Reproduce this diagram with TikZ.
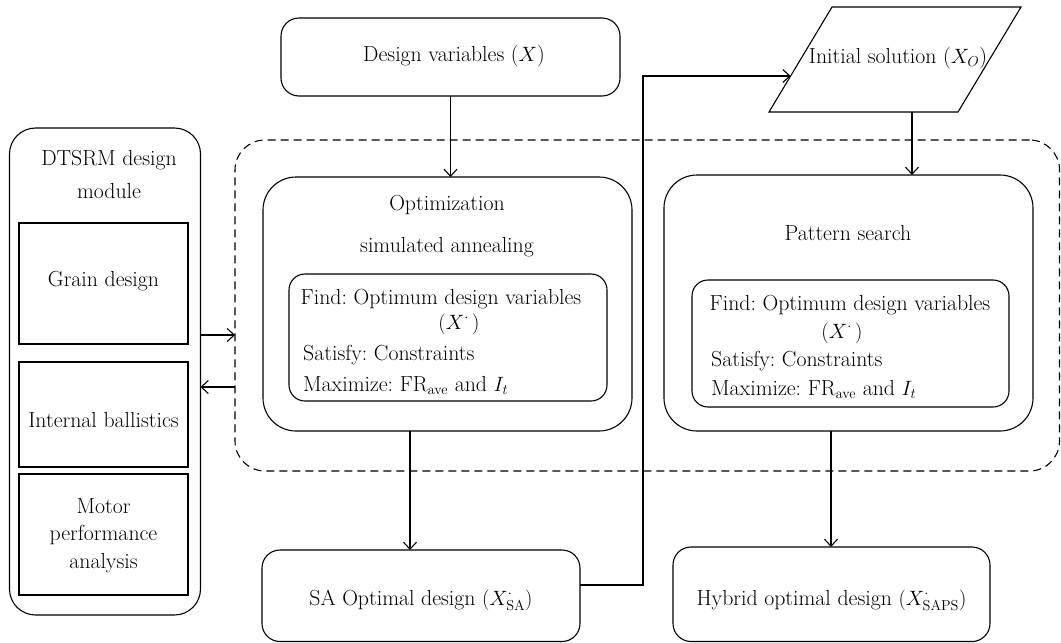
\documentclass[tikz,border=0pt]{standalone}
\usetikzlibrary{arrows.meta,calc}
\frenchspacing
\begin{document}
\begin{tikzpicture}[x=1pt,y=-1pt,
  box/.style={draw, line width=1.1pt, inner sep=0pt, outer sep=0pt, rounded corners=#1},
  box/.default=18pt,
  sqbox/.style={draw, line width=1.1pt, inner sep=0pt, outer sep=0pt},
  txt/.style={anchor=base, inner sep=0pt, font=\fontsize{21.8}{26}\selectfont},
  txtl/.style={anchor=base west, inner sep=0pt, font=\fontsize{21.8}{26}\selectfont},
  conn/.style={line width=1.1pt},
  arr/.style={conn, -{Straight Barb[length=7pt,width=13pt]}}]
\useasboundingbox (0,0) rectangle (1061,643);

% ---------- left module ----------
\node[box=26pt, minimum width=191, minimum height=487] (L) at (105,371.5) {};
\node[txt] (Lt1) at (109,165) {DTSRM design};
\node[txt] (Lt2) at (109,198) {module};
\node[sqbox, minimum width=169, minimum height=121] (GR) at (103.5,283.5) {};
\node[txt] (GRt) at (103.5,286) {Grain design};
\node[sqbox, minimum width=169, minimum height=105] (IB) at (103.5,414.5) {};
\node[txt] (IBt) at (103.5,427) {Internal ballistics};
\node[sqbox, minimum width=169, minimum height=121] (MP) at (103.5,534.5) {};
\node[txt] (MPt1) at (103.5,513) {Motor};
\node[txt] (MPt2) at (103.5,540) {performance};
\node[txt] (MPt3) at (103.5,568) {analysis};

% ---------- dashed group ----------
\node[box=30pt, dash pattern=on 8pt off 5pt, minimum width=824.5, minimum height=331] (G) at (647.25,305.5) {};

% ---------- design variables ----------
\node[box=18pt, minimum width=339, minimum height=78] (D) at (450.5,57) {};
\node[txt] (Dt) at (454,61) {Design variables ($X$)};

% ---------- optimization SA ----------
\node[box=33pt, minimum width=369, minimum height=254] (O) at (447.5,304) {};
\node[txt] (Ot1) at (447,210) {Optimization};
\node[txt] (Ot2) at (447,252) {simulated annealing};
\node[box=16pt, minimum width=318, minimum height=127] (I1) at (448,337.5) {};
\node[txt] (I1a) at (441,304) {Find: Optimum design variables};
\node[txt] (I1b) at (459,329) {$(X^{\cdot}\,)$};
\node[txtl] (I1c) at (303,360) {Satisfy: Constraints};
\node[txtl] (I1d) at (303,391) {Maximize: FR$_{\mathrm{ave}}$ and $I_t$};

% ---------- SA optimal design ----------
\node[box=18pt, minimum width=318, minimum height=91.5] (SA) at (421,595.75) {};
\node[txt] (SAt) at (421,605) {SA Optimal design $(X^{\cdot}_{\mathrm{SA}})$};

% ---------- initial solution ----------
\coordinate (P1) at (832,7);
\coordinate (P2) at (1021,7);
\coordinate (P3) at (958,112);
\coordinate (P4) at (769,112);
\draw[conn, line join=miter] (P1) -- (P2) -- (P3) -- (P4) -- cycle;
\node[txt] (Pt) at (898,63) {Initial solution ($X_O$)};
\coordinate (Pin) at (790.6,76);
\coordinate (Pout) at (912,112);

% ---------- pattern search ----------
\node[box=33pt, minimum width=369, minimum height=256] (PS) at (848.5,303) {};
\node[txt] (PSt) at (848,240.7) {Pattern search};
\node[box=16pt, minimum width=317, minimum height=127] (I2) at (850.5,343.5) {};
\node[txt] (I2a) at (850,310) {Find: Optimum design variables};
\node[txt] (I2b) at (842,338) {$(X^{\cdot}\,)$};
\node[txtl] (I2c) at (711,366) {Satisfy: Constraints};
\node[txtl] (I2d) at (711,395) {Maximize: FR$_{\mathrm{ave}}$ and $I_t$};

% ---------- hybrid ----------
\node[box=18pt, minimum width=317, minimum height=94.5] (H) at (831.5,594.25) {};
\node[txt] (Ht) at (831.5,605) {Hybrid optimal design $(X^{\cdot}_{\mathrm{SAPS}})$};

% ---------- connectors ----------
\coordinate (yr) at (0,335);
\coordinate (yl) at (0,387);
\coordinate (xo) at (410,0);
\coordinate (xs) at (643,0);
\coordinate (ysa) at (0,585);
\coordinate (xh) at (831,0);
\draw[arr] (L.east |- yr) -- (G.west |- yr);
\draw[arr] (G.west |- yl) -- (L.east |- yl);
\draw[arr] (D.south) -- (D.south |- O.north);
\draw[arr] (O.south -| xo) -- (SA.north -| xo);
\draw[arr] (SA.east |- ysa) -- (xs |- ysa) -- (xs |- Pin) -- (Pin);
\draw[arr] (Pout) -- (Pout |- PS.north);
\draw[arr] (PS.south -| xh) -- (H.north -| xh);
\end{tikzpicture}
\end{document}
